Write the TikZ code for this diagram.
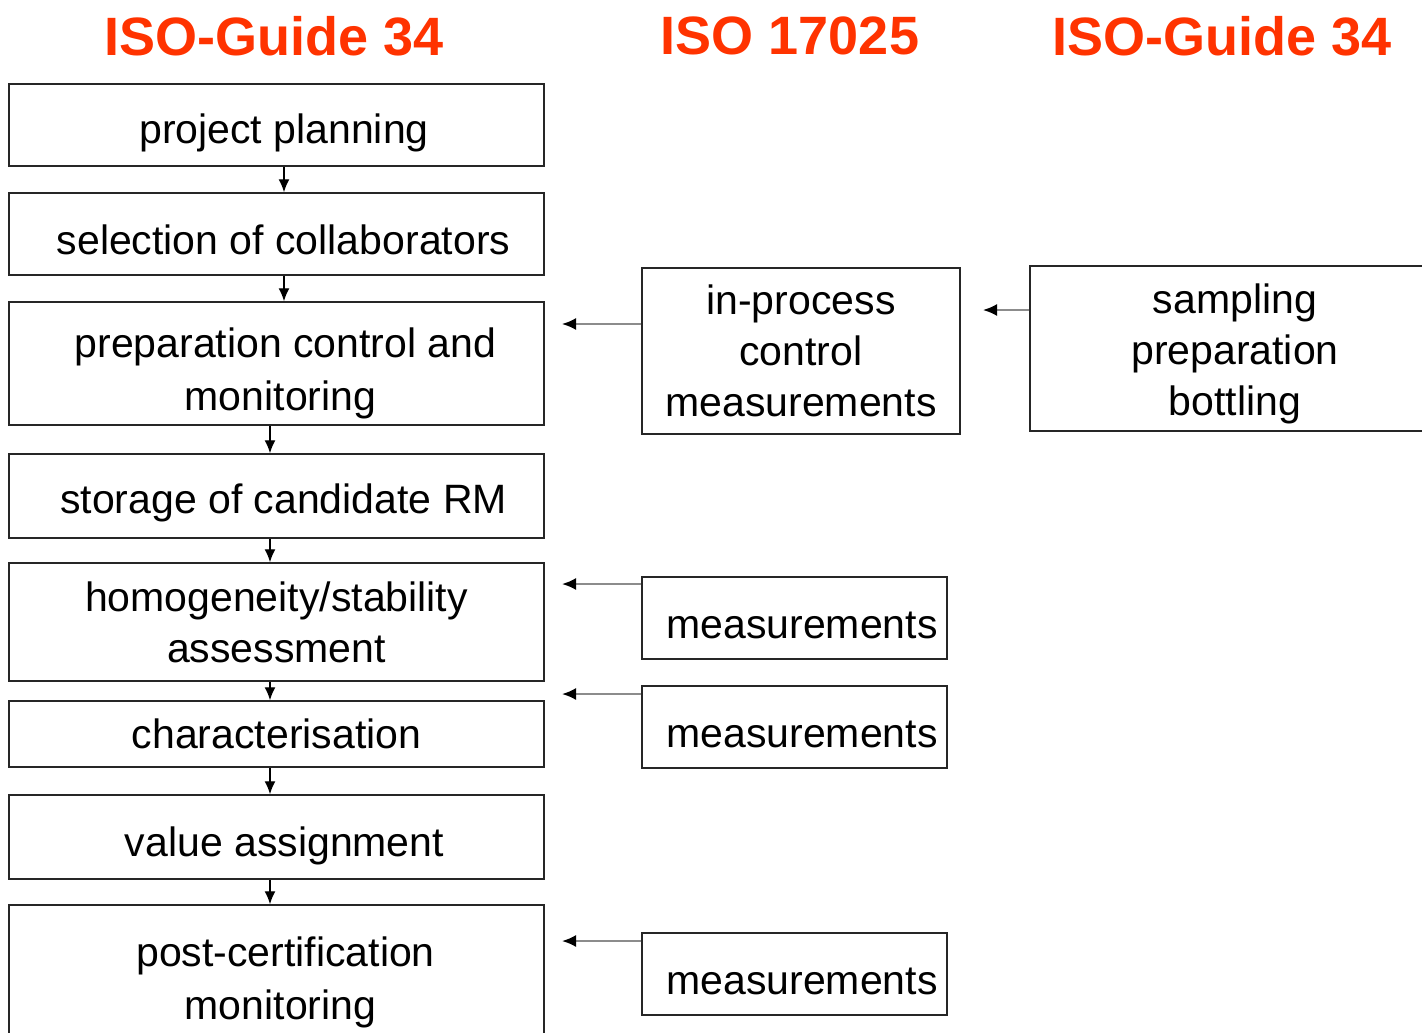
\documentclass[tikz,border=0pt]{standalone}
\usepackage{fontspec}
\setmainfont{Liberation Sans}
\usetikzlibrary{arrows.meta}
\definecolor{isored}{RGB}{255,51,0}
\begin{document}
\begin{tikzpicture}[x=1pt,y=-1pt,
  box/.style={draw=black!85, line width=1.5pt, inner sep=0pt},
  txt/.style={inner sep=0pt, align=center, font=\fontsize{41}{51}\selectfont},
  title/.style={text=isored, font=\bfseries\fontsize{54}{60}\selectfont, inner sep=0pt},
  varrow/.style={line width=1.4pt, black, -{Latex[length=13pt,width=11pt]}},
  harrow/.style={line width=2pt, black!45, -{Latex[length=14pt,width=12pt,black]}}]
\clip (0,0) rectangle (1422,1033);
\fill[white] (0,0) rectangle (1422,1033);
% titles
\node[title] (t1) at (274,36) {ISO-Guide 34};
\node[title] (t2) at (790,36) {ISO 17025};
\node[title] (t3) at (1222,36) {ISO-Guide 34};
% left column boxes
\node[box, minimum width=535pt, minimum height=82pt] (b1) at (276.5,125) {};
\node[box, minimum width=535pt, minimum height=82pt] (b2) at (276.5,234) {};
\node[box, minimum width=535pt, minimum height=123pt] (b3) at (276.5,363.5) {};
\node[box, minimum width=535pt, minimum height=84pt] (b4) at (276.5,496) {};
\node[box, minimum width=535pt, minimum height=118pt] (b5) at (276.5,622) {};
\node[box, minimum width=535pt, minimum height=66pt] (b6) at (276.5,734) {};
\node[box, minimum width=535pt, minimum height=84pt] (b7) at (276.5,837) {};
\node[box, minimum width=535pt, minimum height=148pt] (b8) at (276.5,979) {};
% left column texts
\node[txt] (b1t) at ([xshift=7.5pt,yshift=-8pt]b1.center) {project planning};
\node[txt] (b2t) at ([xshift=7pt,yshift=-6pt]b2.center) {selection of collaborators};
\node[txt, font=\fontsize{41}{53}\selectfont] (b3t) at ([xshift=4pt,yshift=-10pt]b3.center) {\hspace*{10pt}preparation control and\\monitoring};
\node[txt] (b4t) at ([xshift=7pt,yshift=-7pt]b4.center) {storage of candidate RM};
\node[txt] (b5t) at (b5.center) {homogeneity/stability\\assessment};
\node[txt] (b6t) at (b6.center) {characterisation};
\node[txt] (b7t) at ([xshift=8pt,yshift=-9pt]b7.center) {value assignment};
\node[txt, font=\fontsize{41}{53}\selectfont] (b8t) at ([xshift=4pt,yshift=-3pt]b8.center) {\hspace*{10pt}post-certification\\monitoring};
% middle column
\node[box, minimum width=318pt, minimum height=166pt] (ipc) at (801,351) {};
\node[txt] (ipct) at (ipc.center) {in-process\\control\\measurements};
\node[box, minimum width=305pt, minimum height=82pt] (m1) at (794.5,618) {};
\node[txt] (m1t) at ([xshift=7.5pt,yshift=-7pt]m1.center) {measurements};
\node[box, minimum width=305pt, minimum height=82pt] (m2) at (794.5,727) {};
\node[txt] (m2t) at ([xshift=7.5pt,yshift=-7pt]m2.center) {measurements};
\node[box, minimum width=305pt, minimum height=82pt] (m3) at (794.5,974) {};
\node[txt] (m3t) at ([xshift=7.5pt,yshift=-7pt]m3.center) {measurements};
% right column
\node[box, minimum width=410pt, minimum height=165pt] (spb) at (1235,348.5) {};
\node[txt] (spbt) at ([yshift=-5pt]spb.center) {sampling\\preparation\\bottling};
% vertical arrows
\draw[varrow] ([xshift=7.5pt]b1.south) -- ([xshift=7.5pt]b2.north);
\draw[varrow] ([xshift=7.5pt]b2.south) -- ([xshift=7.5pt]b3.north);
\draw[varrow] ([xshift=-6.5pt]b3.south) -- ([xshift=-6.5pt]b4.north);
\draw[varrow] ([xshift=-6.5pt]b4.south) -- ([xshift=-6.5pt]b5.north);
\draw[varrow] ([xshift=-6.5pt]b5.south) -- ([xshift=-6.5pt]b6.north);
\draw[varrow] ([xshift=-6.5pt]b6.south) -- ([xshift=-6.5pt]b7.north);
\draw[varrow] ([xshift=-6.5pt]b7.south) -- ([xshift=-6.5pt]b8.north);
% horizontal arrows
\coordinate (e1) at (562,324);
\coordinate (e2) at (983,310);
\coordinate (e3) at (562,584);
\coordinate (e4) at (562,694);
\coordinate (e5) at (562,941);
\draw[harrow] (ipc.west |- e1) -- (e1);
\draw[harrow] (spb.west |- e2) -- (e2);
\draw[harrow] (m1.west |- e3) -- (e3);
\draw[harrow] (m2.west |- e4) -- (e4);
\draw[harrow] (m3.west |- e5) -- (e5);
\end{tikzpicture}
\end{document}
